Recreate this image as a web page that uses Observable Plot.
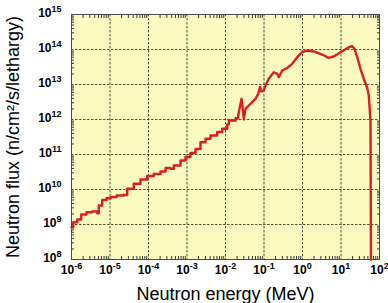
<!DOCTYPE html>
<html>
<head>
<meta charset="utf-8">
<script src="https://cdn.jsdelivr.net/npm/d3@7"></script>
<script src="https://cdn.jsdelivr.net/npm/@observablehq/plot@0.6"></script>
<style>
  html, body { margin: 0; padding: 0; background: #fff; }
</style>
</head>
<body>
<div id="chart"></div>
<script>
// Multigroup (histogram) part of the spectrum, drawn as steps: MeV and n/cm²/s/lethargy
const groupEnergy = [
  1.0e-6, 1.11e-6, 1.41e-6, 1.79e-6, 2.45e-6, 3.45e-6, 4.66e-6, 5.12e-6, 6.27e-6, 8.11e-6,
  1.03e-5, 1.48e-5, 2.28e-5, 2.80e-5, 4.15e-5, 6.19e-5, 9.25e-5, 1.37e-4, 2.05e-4, 2.77e-4,
  3.72e-4, 4.54e-4, 6.78e-4, 9.14e-4, 1.23e-3, 1.66e-3, 2.24e-3, 3.03e-3, 4.07e-3, 6.08e-3,
  8.20e-3, 1.11e-2, 1.22e-2, 1.82e-2, 2.14e-2
];
const groupFlux = [
  8.4e8, 1.16e9, 1.39e9, 1.93e9, 2.24e9, 2.35e9, 2.10e9, 3.49e9, 5.01e9, 5.64e9,
  6.11e9, 6.75e9, 6.97e9, 1.05e10, 1.46e10, 1.93e10, 2.43e10, 2.77e10, 3.27e10, 4.11e10,
  3.90e10, 4.85e10, 6.75e10, 8.49e10, 1.10e11, 1.44e11, 2.24e11, 2.81e11, 3.49e11, 4.40e11,
  5.42e11, 7.19e11, 9.35e11, 1.09e12, 1.30e12
];
// Continuous part from the resonance region up to the cut-off
const fastEnergy = [
  2.61e-2, 2.81e-2, 2.99e-2, 3.30e-2, 4.03e-2, 4.94e-2, 6.01e-2, 7.06e-2, 7.87e-2, 8.61e-2,
  9.89e-2, 0.109, 0.133, 0.180, 0.220, 0.243, 0.297, 0.401, 0.540, 0.728,
  0.982, 1.32, 1.97, 3.25, 4.82, 6.50, 10.7, 16.0, 19.5, 22.4,
  26.4, 32.1, 39.1, 48.0, 52.7, 58.3, 60.1
];
const fastFlux = [
  3.90e12, 2.02e12, 1.0e12, 2.02e12, 2.51e12, 3.12e12, 3.90e12, 5.42e12, 8.49e12, 6.31e12,
  6.75e12, 9.35e12, 1.46e13, 2.24e13, 2.02e13, 1.62e13, 2.51e13, 2.96e13, 3.90e13, 6.03e13,
  8.38e13, 9.35e13, 8.77e13, 7.19e13, 5.79e13, 6.31e13, 8.93e13, 1.16e14, 1.24e14, 1.05e14,
  6.03e13, 2.81e13, 1.46e13, 7.94e12, 4.85e12, 9.35e11, 1.0e8
];

const xDecades = [1e-6, 1e-5, 1e-4, 1e-3, 1e-2, 1e-1, 1e0, 1e1, 1e2];
const yDecades = [1e8, 1e9, 1e10, 1e11, 1e12, 1e13, 1e14, 1e15];
const xTitle = "Neutron energy (MeV)";
const yTitle = "Neutron flux (n/cm²/s/lethargy)";

const groups = groupEnergy.map((energy, i) => ({energy, flux: groupFlux[i]}));
const fast = [groups[groups.length - 1],
  ...fastEnergy.map((energy, i) => ({energy, flux: fastFlux[i]}))];

// 2..9 subdivisions of each decade
const minorOf = (decades) => decades.slice(0, -1).flatMap(d => [2, 3, 4, 5, 6, 7, 8, 9].map(m => m * d));
const exponent = (d) => String(Math.round(Math.log10(d)));

const font = "'Liberation Sans', Arial, Helvetica, sans-serif";
const ink = "#3a3a3a";
const gridStyle = {stroke: "#2b2b14", strokeOpacity: 0.8, strokeDasharray: "2.5,1.5", strokeWidth: 1};
const red = "#dc1e1e";

const chart = Plot.plot({
  width: 388,
  height: 303,
  marginLeft: 71,
  marginRight: 9,
  marginTop: 14,
  marginBottom: 44,
  style: {fontFamily: font, background: "#fff", overflow: "visible", color: "#000"},
  x: {type: "log", domain: [1e-6, 1e2]},
  y: {type: "log", domain: [1e8, 1e15]},
  marks: [
    Plot.frame({fill: "#fbfbc1"}),
    Plot.gridX(xDecades, gridStyle),
    Plot.gridY(yDecades, gridStyle),
    // inward minor ticks on all four sides
    Plot.axisX(minorOf(xDecades), {anchor: "bottom", tickSize: 3, dy: -3, tickFormat: () => "", label: null, stroke: ink}),
    Plot.axisX(minorOf(xDecades), {anchor: "top", tickSize: 3, dy: 3, tickFormat: () => "", label: null, stroke: ink}),
    Plot.axisY(minorOf(yDecades), {anchor: "left", tickSize: 3, dx: 3, tickFormat: () => "", label: null, stroke: ink}),
    Plot.axisY(minorOf(yDecades), {anchor: "right", tickSize: 3, dx: -3, tickFormat: () => "", label: null, stroke: ink}),
    // spectrum
    Plot.line(groups, {x: "energy", y: "flux", curve: "step-after", stroke: red, strokeWidth: 2.4, strokeLinejoin: "round"}),
    Plot.line(fast, {x: "energy", y: "flux", curve: "linear", stroke: red, strokeWidth: 2.4, strokeLinejoin: "round"}),
    Plot.frame({stroke: "#4a4a4a", strokeWidth: 1}),
    // decade labels (exponent is turned into a superscript below)
    Plot.axisX(xDecades, {anchor: "bottom", tickSize: 0, tickPadding: 6, tickFormat: exponent, label: null,
      fontSize: 12, fontWeight: "bold", fill: "#000"}),
    Plot.axisY(yDecades, {anchor: "left", tickSize: 0, tickPadding: 10, tickFormat: exponent, label: null,
      fontSize: 12, fontWeight: "bold", fill: "#000", dy: -1}),
    Plot.text([xTitle], {frameAnchor: "bottom", textAnchor: "middle", lineAnchor: "middle", dy: 35, fontSize: 18, fill: "#000"}),
    Plot.text([yTitle], {frameAnchor: "left", textAnchor: "middle", lineAnchor: "middle", dx: -58, rotate: -90, fontSize: 18, fill: "#000"})
  ]
});

// Write decade labels as 10 with a raised exponent
const svgNS = "http://www.w3.org/2000/svg";
chart.querySelectorAll("[aria-label$='tick label'] text").forEach(t => {
  const e = t.textContent;
  if (!e) return;
  t.textContent = "10";
  const sup = document.createElementNS(svgNS, "tspan");
  sup.setAttribute("dy", "-5");
  sup.setAttribute("font-size", "9");
  sup.textContent = e;
  t.appendChild(sup);
});

document.getElementById("chart").appendChild(chart);
</script>
</body>
</html>
